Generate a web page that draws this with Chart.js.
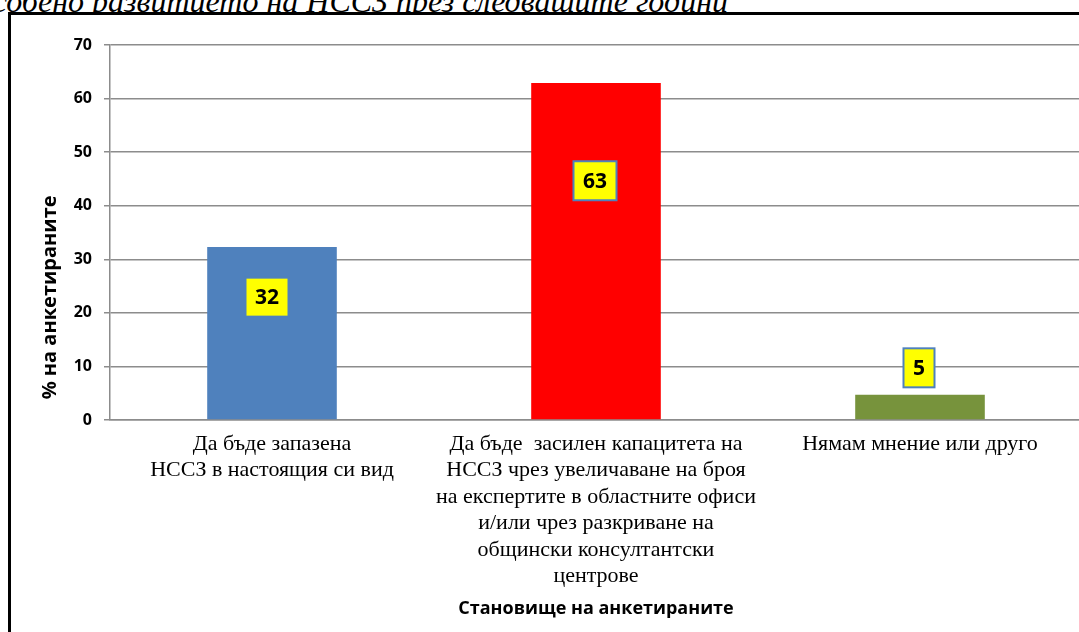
<!DOCTYPE html>
<html>
<head>
<meta charset="utf-8">
<script src="https://cdn.jsdelivr.net/npm/chart.js@4/dist/chart.umd.min.js"></script>
<style>
  html, body { margin: 0; padding: 0; width: 1079px; height: 632px; overflow: hidden; background: #fff; }
  #caption { position: absolute; right: 351px; top: -15px; line-height: 32px; white-space: nowrap; font-style: italic; font-size: 32px; font-family: "Liberation Serif"; color: #000; }
  #frame { position: absolute; left: 8px; top: 12px; width: 1100px; height: 700px; border: 3px solid #000; background: #fff; }
  #chart { position: absolute; left: 0; top: 0; }
</style>
</head>
<body>
<div id="caption">особено развитието на НССЗ през следващите години</div>
<div id="frame"></div>
<canvas id="chart" width="1100" height="632"></canvas>
<script>
// data
const categories = [
  ["Да бъде запазена", "НССЗ в настоящия си вид"],
  ["Да бъде  засилен капацитета на", "НССЗ чрез увеличаване на броя", "на експертите в областните офиси", "и/или чрез разкриване на", "общински консултантски", "центрове"],
  ["Нямам мнение или друго"]
];
const values = [32.3, 62.9, 4.7];
const valueLabels = ["32", "63", "5"];
const barColors = ["#4f81bd", "#ff0000", "#77933c"];
const yTicks = [0, 10, 20, 30, 40, 50, 60, 70];
const yTitle = "% на анкетираните";

const sansBold = "'Open Sans'";

// yellow boxes with the rounded values
const valueBoxes = {
  id: "valueBoxes",
  afterDatasetsDraw(chart) {
    const ctx = chart.ctx;
    const yScale = chart.scales.y;
    const meta = chart.getDatasetMeta(0);
    ctx.save();
    ctx.font = "bold 21px " + sansBold;
    ctx.textAlign = "center";
    ctx.textBaseline = "middle";
    meta.data.forEach((bar, i) => {
      const text = valueLabels[i];
      const w = ctx.measureText(text).width + 19;
      const h = 39;
      // inside the tall bars, above the short one
      const cy = values[i] > 10 ? yScale.getPixelForValue(values[i] * 0.71) : bar.y - 27;
      const cx = i === 0 ? bar.x - 5 : bar.x - 1;
      ctx.fillStyle = "#ffff00";
      ctx.fillRect(cx - w / 2, cy - h / 2, w, h);
      ctx.strokeStyle = "#4f81bd";
      ctx.lineWidth = 2;
      ctx.strokeRect(cx - w / 2, cy - h / 2, w, h);
      ctx.fillStyle = "#000";
      ctx.fillText(text, cx, cy + 1);
    });
    ctx.restore();
  }
};

// y title sits lower than the middle of the axis
const sideTitle = {
  id: "sideTitle",
  afterDraw(chart) {
    const ctx = chart.ctx;
    const area = chart.chartArea;
    ctx.save();
    ctx.translate(50, area.top + (area.bottom - area.top) * 0.673);
    ctx.rotate(-Math.PI / 2);
    ctx.font = "bold 20px " + sansBold;
    ctx.fillStyle = "#000";
    ctx.textAlign = "center";
    ctx.textBaseline = "middle";
    ctx.fillText(yTitle, 0, 0);
    ctx.restore();
  }
};

new Chart(document.getElementById("chart").getContext("2d"), {
  type: "bar",
  data: {
    labels: categories,
    datasets: [{
      data: values,
      backgroundColor: barColors,
      barPercentage: 0.4,
      categoryPercentage: 1
    }]
  },
  options: {
    responsive: false,
    animation: false,
    layout: { padding: { top: 45, right: 18, bottom: 0, left: 0 } },
    plugins: {
      legend: { display: false },
      tooltip: { enabled: false }
    },
    scales: {
      x: {
        grid: { display: false },
        border: { display: true, color: "#8c8c8c", width: 1.5 },
        ticks: {
          color: "#000",
          padding: 3,
          maxRotation: 0,
          autoSkip: false,
          font: { family: "Liberation Serif", size: 22, lineHeight: 1.2 }
        },
        title: {
          display: true,
          text: "Становище на анкетираните",
          color: "#000",
          font: { family: sansBold, size: 18, weight: "bold" },
          padding: { top: 0, bottom: 12 }
        },
        afterFit(scale) { scale.height = 212; }
      },
      y: {
        min: 0,
        max: 70,
        afterBuildTicks(scale) { scale.ticks = yTicks.map(v => ({ value: v })); },
        grid: { color: "#8c8c8c", lineWidth: 1.5, tickLength: 6 },
        border: { color: "#8c8c8c", width: 1.5 },
        ticks: {
          color: "#000",
          padding: 12,
          font: { family: sansBold, size: 16, weight: "bold" }
        },
        afterFit(scale) { scale.width = 110; }
      }
    }
  },
  plugins: [valueBoxes, sideTitle]
});
</script>
</body>
</html>
